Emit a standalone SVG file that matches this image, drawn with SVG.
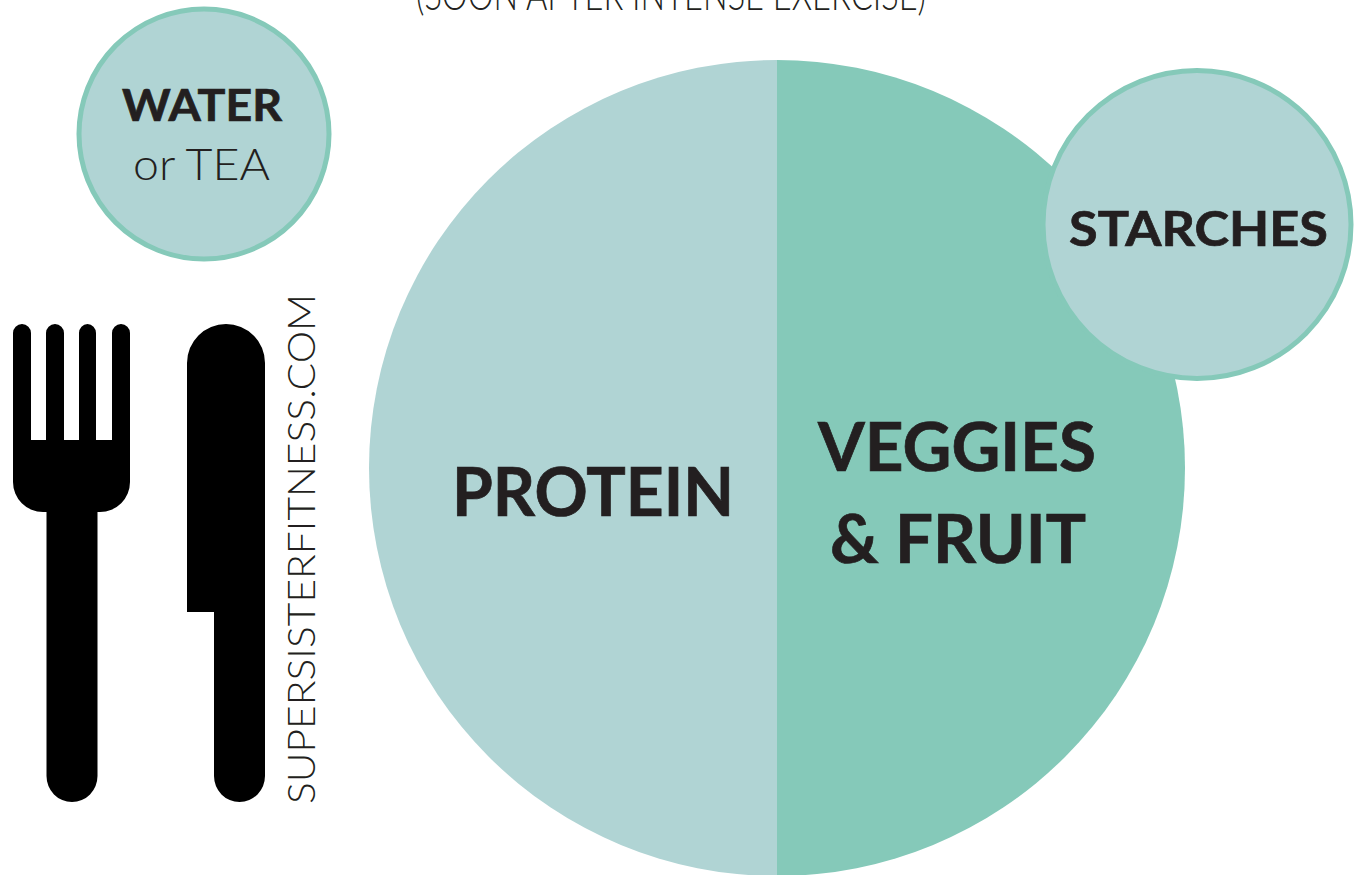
<svg xmlns="http://www.w3.org/2000/svg" width="1359" height="875" viewBox="0 0 1359 875">
<style>
.t{font-family:"Lato","Liberation Sans",sans-serif;fill:#231f20;}
.b{font-weight:700;stroke:#231f20;stroke-width:.7;}
.bub{fill:#b0d4d4;stroke:#85c9b9;stroke-width:5;}
.cut{fill:#000;}
</style>
<rect width="1359" height="875" fill="#fff"/>
<g id="caption"><text class="t" x="416" y="10" font-size="44" font-weight="300" textLength="510" lengthAdjust="spacingAndGlyphs">(SOON AFTER INTENSE EXERCISE)</text></g>
<g id="plate">
<path d="M777 60A408 408 0 0 0 777 876Z" fill="#b0d4d4"/>
<path d="M777 60A408 408 0 0 1 777 876Z" fill="#85c9b9"/>
<text class="t b" x="452" y="516" font-size="66" textLength="282" lengthAdjust="spacingAndGlyphs">PROTEIN</text>
<text class="t b" x="818" y="471" font-size="66" textLength="278" lengthAdjust="spacingAndGlyphs">VEGGIES</text>
<text class="t b" x="830" y="563" font-size="66" textLength="256" lengthAdjust="spacingAndGlyphs">&amp; FRUIT</text>
</g>
<g id="water">
<circle class="bub" cx="204" cy="134" r="125"/>
<text class="t b" x="122" y="121" font-size="44" textLength="160" lengthAdjust="spacingAndGlyphs">WATER</text>
<text class="t" x="133" y="180" font-size="44" font-weight="300" textLength="137" lengthAdjust="spacingAndGlyphs">or TEA</text>
</g>
<g id="starches">
<circle class="bub" cx="1197" cy="224.500" r="154"/>
<text class="t b" x="1069" y="246" font-size="47" textLength="259" lengthAdjust="spacingAndGlyphs">STARCHES</text>
</g>
<g id="fork"><path class="cut" d="M13 333a9 9 0 0 1 18 0V440H46V333a9 9 0 0 1 18 0V440H79V333a8.500 9 0 0 1 17 0V440H112V333a9 9 0 0 1 18 0V482a30 30 0 0 1-30 30H97.500V776a25.500 26 0 0 1-51 0V512H43a30 30 0 0 1-30-30Z"/></g>
<g id="knife"><path class="cut" d="M187 363a39 39 0 0 1 78 0V776a25.500 26 0 0 1-51 0V612H187Z"/></g>
<g id="site"><text class="t" transform="translate(315 804) rotate(-90)" font-size="38" font-weight="300" textLength="510" lengthAdjust="spacingAndGlyphs">SUPERSISTERFITNESS.COM</text></g>
</svg>
